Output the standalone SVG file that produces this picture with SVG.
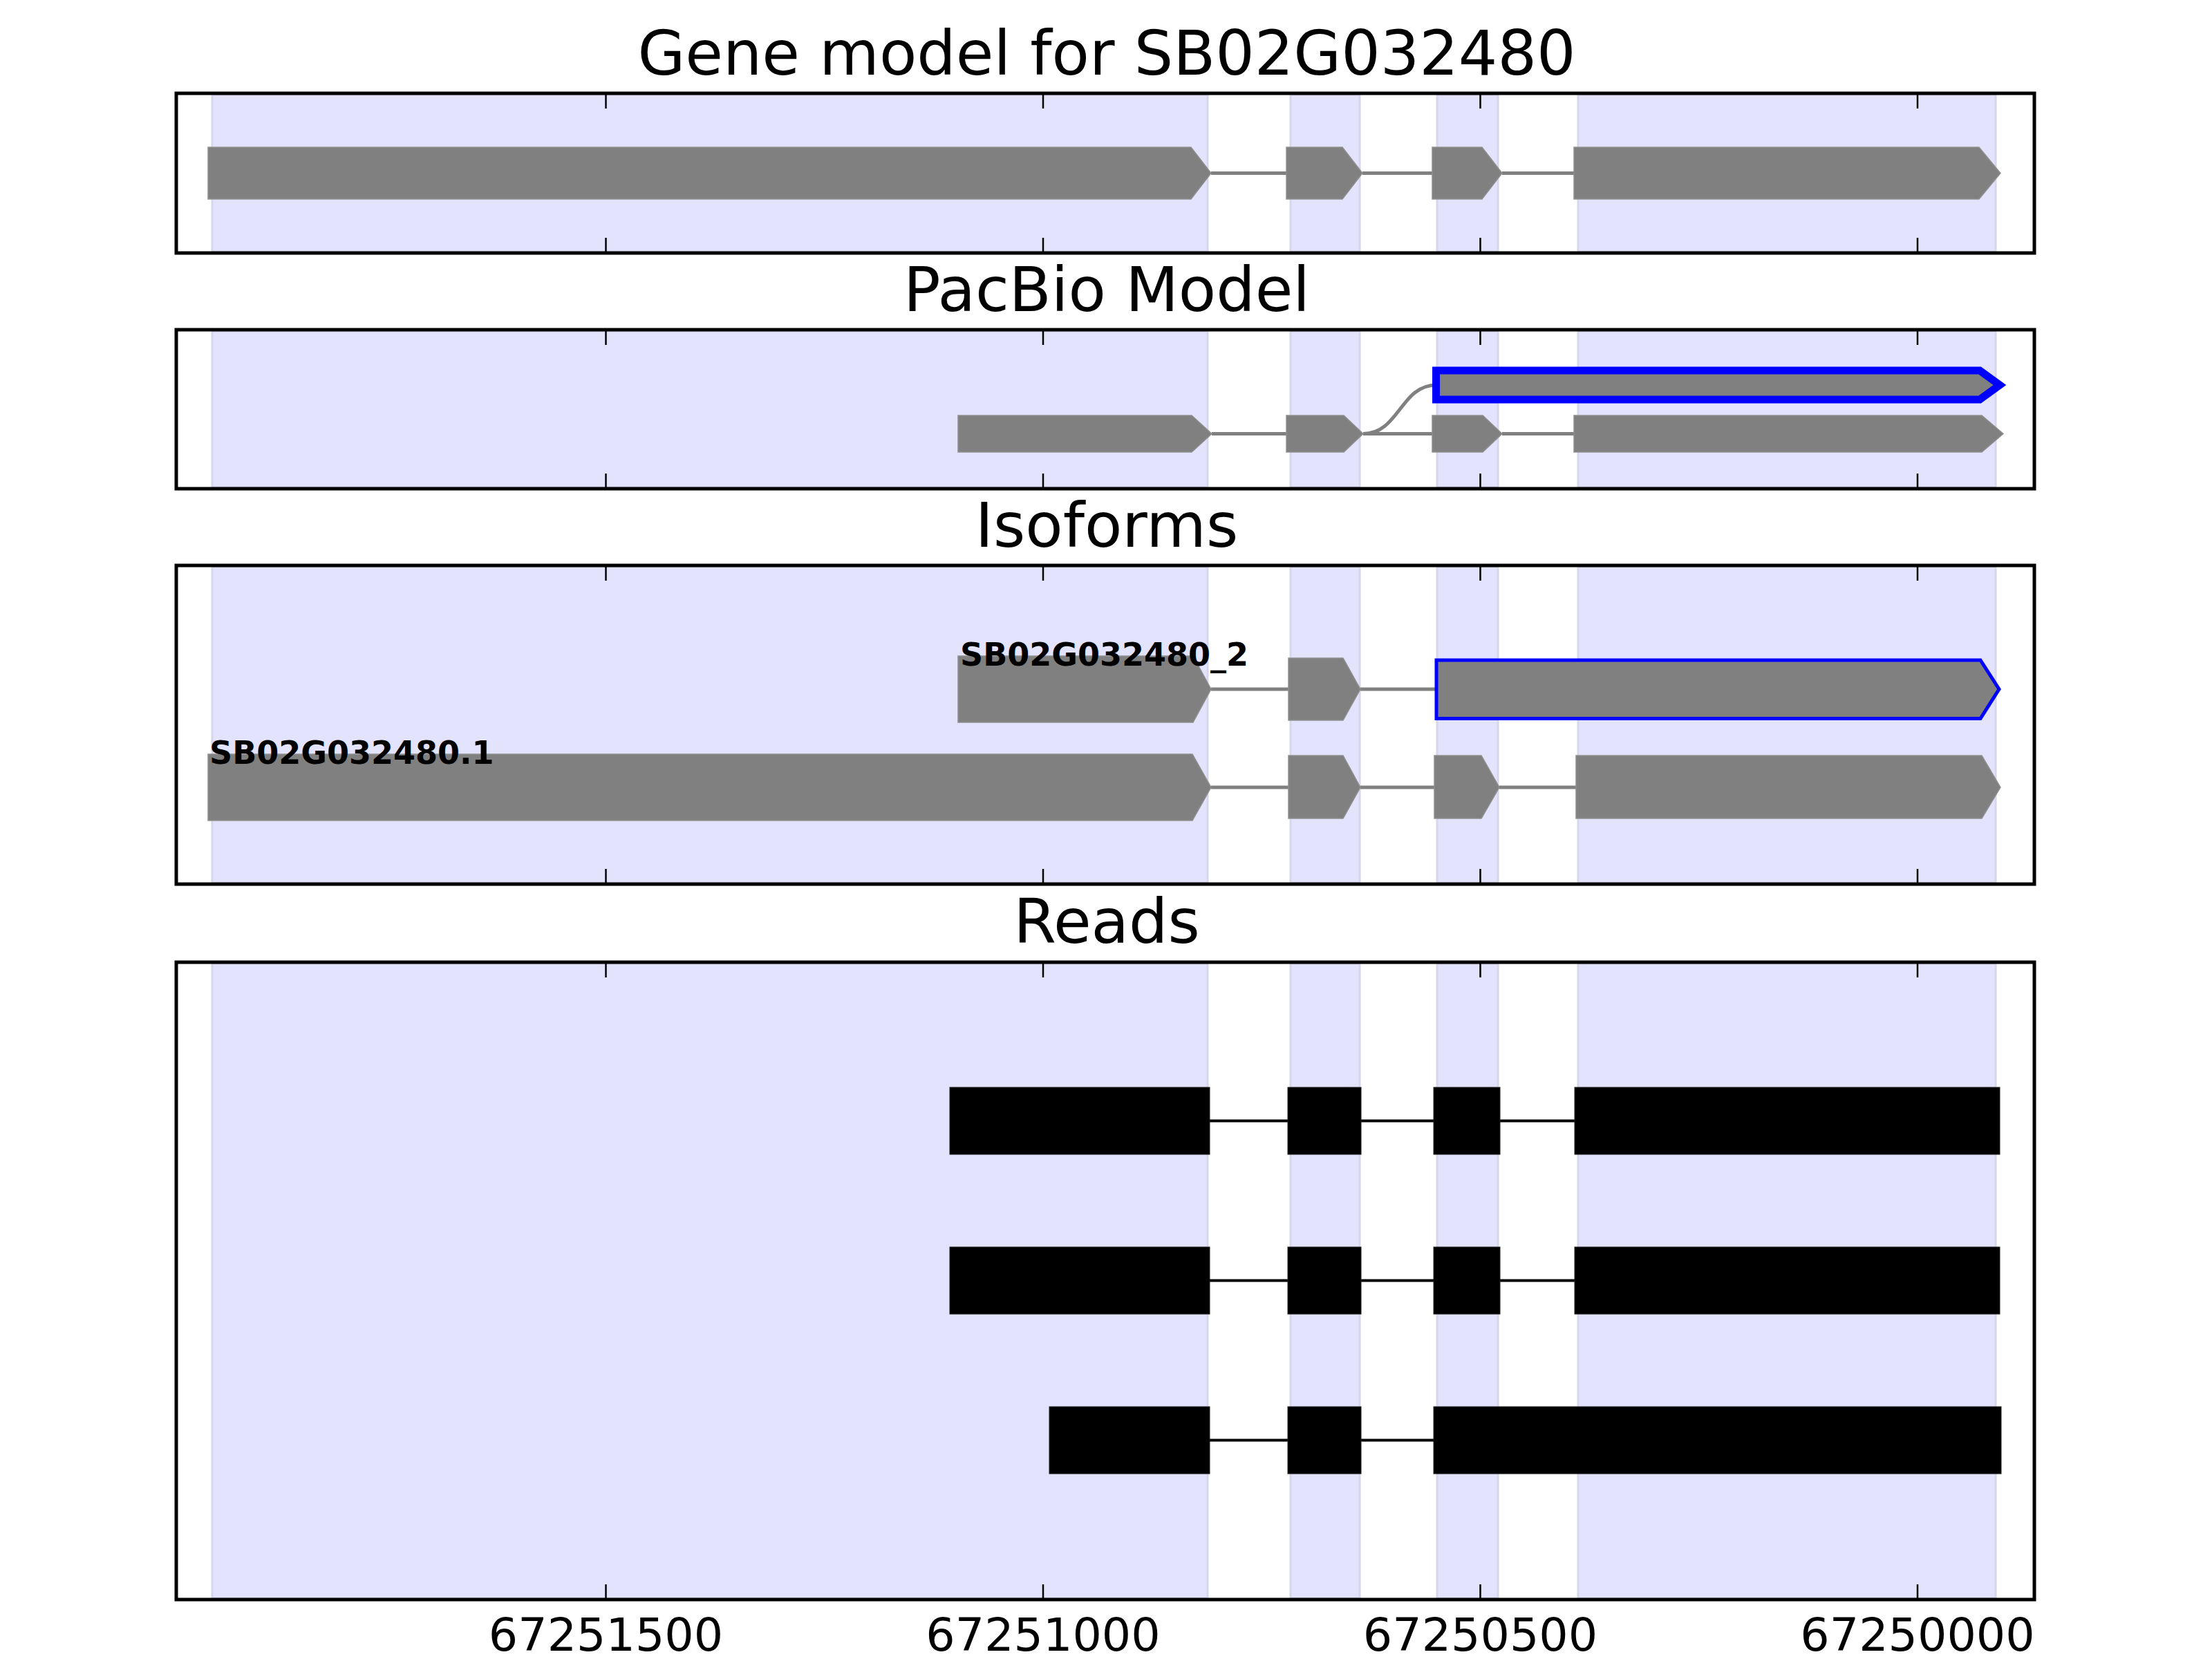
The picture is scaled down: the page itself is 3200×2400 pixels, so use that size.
<svg xmlns="http://www.w3.org/2000/svg" width="3200" height="2400" viewBox="0 0 3200 2400">
<style>
.bg{fill:#ffffff}
.shade{fill:#e3e3fd;stroke:#d6d6ec;stroke-width:3}
.frame{fill:none;stroke:#000;stroke-width:5}
.tick{stroke:#000;stroke-width:2.5}
.exon{fill:#808080;stroke:#8f8f8f;stroke-width:1.5}
.intron{stroke:#808080;stroke-width:5;fill:none}
.sel{fill:#808080;stroke:#0000ff}
.read{fill:#000;stroke:#222;stroke-width:1}
.rintron{stroke:#000;stroke-width:4}
.title{font-family:"DejaVu Sans","Liberation Sans",sans-serif;font-size:88.9px;text-anchor:middle;fill:#000}
.tl{font-family:"DejaVu Sans","Liberation Sans",sans-serif;font-size:66.7px;text-anchor:middle;fill:#000}
.lab{font-family:"DejaVu Sans","Liberation Sans",sans-serif;font-size:46px;font-weight:bold;fill:#000}
</style>
<rect class="bg" x="0" y="0" width="3200" height="2400"/>

<!-- Panel 1: Gene model -->
<g id="panel-gene">
<text class="title" x="1601" y="108">Gene model for SB02G032480</text>
<rect class="shade" x="307" y="137" width="1440" height="227"/>
<rect class="shade" x="1867" y="137" width="100" height="227"/>
<rect class="shade" x="2079" y="137" width="88" height="227"/>
<rect class="shade" x="2283" y="137" width="604" height="227"/>
<g id="gene-introns">
<line class="intron" x1="1752" y1="250.5" x2="1861" y2="250.5"/>
<line class="intron" x1="1971" y1="250.5" x2="2072" y2="250.5"/>
<line class="intron" x1="2173" y1="250.5" x2="2277" y2="250.5"/>
</g>
<g id="gene-exons">
<polygon class="exon" points="301,213 1723,213 1752,250.5 1723,288 301,288"/>
<polygon class="exon" points="1861,213 1942,213 1971,250.5 1942,288 1861,288"/>
<polygon class="exon" points="2072,213 2144,213 2173,250.5 2144,288 2072,288"/>
<polygon class="exon" points="2277,213 2863,213 2894,250.5 2863,288 2277,288"/>
</g>
<g class="tick">
<line x1="876.5" y1="137" x2="876.5" y2="157"/><line x1="1509" y1="137" x2="1509" y2="157"/><line x1="2141.5" y1="137" x2="2141.5" y2="157"/><line x1="2774" y1="137" x2="2774" y2="157"/>
<line x1="876.5" y1="364" x2="876.5" y2="344"/><line x1="1509" y1="364" x2="1509" y2="344"/><line x1="2141.5" y1="364" x2="2141.5" y2="344"/><line x1="2774" y1="364" x2="2774" y2="344"/>
</g>
<rect class="frame" x="255" y="135" width="2688" height="231"/>
</g>

<!-- Panel 2: PacBio Model -->
<g id="panel-pacbio">
<text class="title" x="1601" y="450">PacBio Model</text>
<rect class="shade" x="307" y="479" width="1440" height="226"/>
<rect class="shade" x="1867" y="479" width="100" height="226"/>
<rect class="shade" x="2079" y="479" width="88" height="226"/>
<rect class="shade" x="2283" y="479" width="604" height="226"/>
<g id="pacbio-connectors">
<line class="intron" x1="1753" y1="627.5" x2="1861" y2="627.5"/>
<line class="intron" x1="1972" y1="627.5" x2="2072" y2="627.5"/>
<line class="intron" x1="2173" y1="627.5" x2="2277" y2="627.5"/>
<path class="intron" d="M1972,627.5 C2024,627.5 2026,557 2078,557"/>
</g>
<g id="pacbio-exons">
<polygon class="exon" points="1386,601 1724,601 1753,627.5 1724,654 1386,654"/>
<polygon class="exon" points="1861,601 1944,601 1972,627.5 1944,654 1861,654"/>
<polygon class="exon" points="2072,601 2145,601 2173,627.5 2145,654 2072,654"/>
<polygon class="exon" points="2277,601 2867,601 2898,627.5 2867,654 2277,654"/>
<polygon class="sel" stroke-width="11" points="2077.5,536 2864,536 2893,557 2864,578 2077.5,578"/>
</g>
<g class="tick">
<line x1="876.5" y1="479" x2="876.5" y2="499"/><line x1="1509" y1="479" x2="1509" y2="499"/><line x1="2141.5" y1="479" x2="2141.5" y2="499"/><line x1="2774" y1="479" x2="2774" y2="499"/>
<line x1="876.5" y1="705" x2="876.5" y2="685"/><line x1="1509" y1="705" x2="1509" y2="685"/><line x1="2141.5" y1="705" x2="2141.5" y2="685"/><line x1="2774" y1="705" x2="2774" y2="685"/>
</g>
<rect class="frame" x="255" y="477" width="2688" height="230"/>
</g>

<!-- Panel 3: Isoforms -->
<g id="panel-isoforms">
<text class="title" x="1601" y="791">Isoforms</text>
<rect class="shade" x="307" y="820" width="1440" height="457"/>
<rect class="shade" x="1867" y="820" width="100" height="457"/>
<rect class="shade" x="2079" y="820" width="88" height="457"/>
<rect class="shade" x="2283" y="820" width="604" height="457"/>
<g id="isoform-introns">
<line class="intron" x1="1752" y1="997" x2="1864" y2="997"/>
<line class="intron" x1="1968" y1="997" x2="2078" y2="997"/>
<line class="intron" x1="1752" y1="1139" x2="1864" y2="1139"/>
<line class="intron" x1="1968" y1="1139" x2="2075" y2="1139"/>
<line class="intron" x1="2169" y1="1139" x2="2280" y2="1139"/>
</g>
<g id="isoform-2">
<polygon class="exon" points="1386,949 1726,949 1752,997 1726,1045 1386,1045"/>
<polygon class="exon" points="1864,952 1943,952 1968,997 1943,1042 1864,1042"/>
<polygon class="sel" stroke-width="5" points="2078,955 2865,955 2892,997 2865,1039.5 2078,1039.5"/>
<text class="lab" x="1389" y="963">SB02G032480_2</text>
</g>
<g id="isoform-1">
<polygon class="exon" points="301,1091 1725,1091 1752,1139 1725,1187 301,1187"/>
<polygon class="exon" points="1864,1093 1943,1093 1968,1139 1943,1184 1864,1184"/>
<polygon class="exon" points="2075,1093 2143,1093 2169,1139 2143,1184 2075,1184"/>
<polygon class="exon" points="2280,1093 2867,1093 2894,1139 2867,1184 2280,1184"/>
<text class="lab" x="303" y="1105">SB02G032480.1</text>
</g>
<g class="tick">
<line x1="876.5" y1="820" x2="876.5" y2="840"/><line x1="1509" y1="820" x2="1509" y2="840"/><line x1="2141.5" y1="820" x2="2141.5" y2="840"/><line x1="2774" y1="820" x2="2774" y2="840"/>
<line x1="876.5" y1="1277" x2="876.5" y2="1257"/><line x1="1509" y1="1277" x2="1509" y2="1257"/><line x1="2141.5" y1="1277" x2="2141.5" y2="1257"/><line x1="2774" y1="1277" x2="2774" y2="1257"/>
</g>
<rect class="frame" x="255" y="818" width="2688" height="461"/>
</g>

<!-- Panel 4: Reads -->
<g id="panel-reads">
<text class="title" x="1601" y="1364">Reads</text>
<rect class="shade" x="307" y="1394" width="1440" height="918"/>
<rect class="shade" x="1867" y="1394" width="100" height="918"/>
<rect class="shade" x="2079" y="1394" width="88" height="918"/>
<rect class="shade" x="2283" y="1394" width="604" height="918"/>
<g id="read-introns" class="rintron">
<line x1="1750" y1="1621.5" x2="1863" y2="1621.5"/>
<line x1="1969" y1="1621.5" x2="2074" y2="1621.5"/>
<line x1="2170" y1="1621.5" x2="2278" y2="1621.5"/>
<line x1="1750" y1="1852.5" x2="1863" y2="1852.5"/>
<line x1="1969" y1="1852.5" x2="2074" y2="1852.5"/>
<line x1="2170" y1="1852.5" x2="2278" y2="1852.5"/>
<line x1="1750" y1="2083.5" x2="1863" y2="2083.5"/>
<line x1="1969" y1="2083.5" x2="2074" y2="2083.5"/>
</g>
<g id="read-1">
<rect class="read" x="1374" y="1573" width="376" height="97"/>
<rect class="read" x="1863" y="1573" width="106" height="97"/>
<rect class="read" x="2074" y="1573" width="96" height="97"/>
<rect class="read" x="2278" y="1573" width="615" height="97"/>
</g>
<g id="read-2">
<rect class="read" x="1374" y="1804" width="376" height="97"/>
<rect class="read" x="1863" y="1804" width="106" height="97"/>
<rect class="read" x="2074" y="1804" width="96" height="97"/>
<rect class="read" x="2278" y="1804" width="615" height="97"/>
</g>
<g id="read-3">
<rect class="read" x="1518" y="2035" width="232" height="97"/>
<rect class="read" x="1863" y="2035" width="106" height="97"/>
<rect class="read" x="2074" y="2035" width="821" height="97"/>
</g>
<g class="tick">
<line x1="876.5" y1="1394" x2="876.5" y2="1414"/><line x1="1509" y1="1394" x2="1509" y2="1414"/><line x1="2141.5" y1="1394" x2="2141.5" y2="1414"/><line x1="2774" y1="1394" x2="2774" y2="1414"/>
<line x1="876.5" y1="2312" x2="876.5" y2="2292"/><line x1="1509" y1="2312" x2="1509" y2="2292"/><line x1="2141.5" y1="2312" x2="2141.5" y2="2292"/><line x1="2774" y1="2312" x2="2774" y2="2292"/>
</g>
<rect class="frame" x="255" y="1392" width="2688" height="922"/>
<g id="x-axis-labels">
<text class="tl" x="876.5" y="2388">67251500</text>
<text class="tl" x="1509" y="2388">67251000</text>
<text class="tl" x="2141.5" y="2388">67250500</text>
<text class="tl" x="2774" y="2388">67250000</text>
</g>
</g>
</svg>
